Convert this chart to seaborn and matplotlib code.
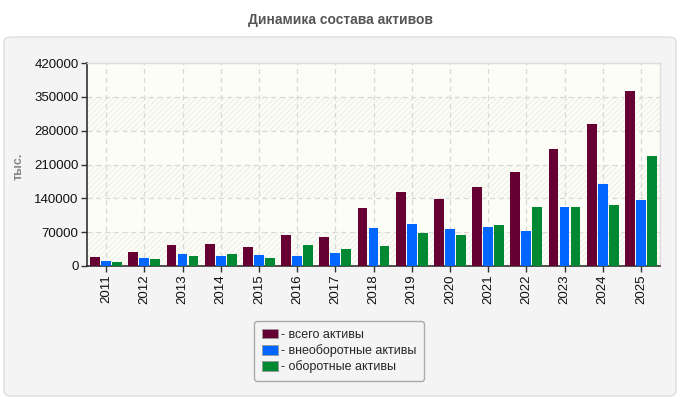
import numpy as np
import pandas as pd
import matplotlib
matplotlib.use("Agg")
import matplotlib.pyplot as plt
from matplotlib.patches import FancyBboxPatch, Patch
import seaborn as sns

# Chart data (thousand rubles)
YEARS = ["2011", "2012", "2013", "2014", "2015", "2016", "2017", "2018",
         "2019", "2020", "2021", "2022", "2023", "2024", "2025"]
TOTAL_ASSETS = [18500, 28800, 43200, 45300, 39100, 63800, 59700, 119400,
                152300, 137900, 162600, 193500, 242800, 294300, 362200]
NONCURRENT_ASSETS = [10300, 16500, 24700, 20600, 22600, 20600, 26800, 78200,
                     86400, 76100, 80300, 72000, 121400, 168800, 135800]
CURRENT_ASSETS = [8200, 14400, 20600, 24700, 16500, 43200, 35000, 41200,
                  67900, 63800, 84400, 121400, 121400, 125500, 228400]
SERIES_NAMES = ["всего активы", "внеоборотные активы", "оборотные активы"]
COLORS = ["#660033", "#0066ff", "#008833"]
Y_TICKS = [0, 70000, 140000, 210000, 280000, 350000, 420000]


def build_frame():
    frames = []
    for name, values in zip(SERIES_NAMES, [TOTAL_ASSETS, NONCURRENT_ASSETS, CURRENT_ASSETS]):
        frames.append(pd.DataFrame({"year": YEARS, "value": values, "series": name}))
    return pd.concat(frames, ignore_index=True)


def main():
    sns.set_theme(style="white")
    plt.rcParams["font.family"] = ["Liberation Sans", "DejaVu Sans"]
    plt.rcParams["hatch.color"] = "#efefe8"
    plt.rcParams["hatch.linewidth"] = 0.8

    fig = plt.figure(figsize=(6.8, 4.0), dpi=100)
    fig.patch.set_facecolor("white")

    # grey rounded panel behind the chart
    panel = FancyBboxPatch((4 / 680, 4 / 400), 672 / 680, 359 / 400,
                           boxstyle="round,pad=0,rounding_size=0.012",
                           transform=fig.transFigure, facecolor="#f4f4f4",
                           edgecolor="#dddddd", linewidth=1, zorder=-5)
    fig.patches.append(panel)

    ax = fig.add_axes([87 / 680, 1 - 266 / 400, 573 / 680, 203 / 400])
    ax.set_zorder(2)
    ax.set_facecolor("#fdfdf7")

    # alternating hatched bands
    for lo in (0, 140000, 280000):
        ax.axhspan(lo, lo + 70000, facecolor="none", hatch="//////",
                   edgecolor="#efefe8", linewidth=0, zorder=0)

    df = build_frame()
    sns.barplot(data=df, x="year", y="value", hue="series", palette=COLORS,
                width=0.86, gap=0.1, saturation=1, linewidth=0,
                ax=ax, legend=False, zorder=3)

    ax.set_ylim(0, 420000)
    ax.set_xlim(-0.5, len(YEARS) - 0.5)
    ax.set_yticks(Y_TICKS)
    ax.set_yticklabels([str(t) for t in Y_TICKS], fontsize=9.5, color="#111111")
    ax.set_xticks(range(len(YEARS)))
    ax.set_xticklabels(YEARS, rotation=90, fontsize=9.5, color="#111111")
    ax.set_xlabel("")
    ax.set_ylabel("")
    ax.tick_params(axis="both", length=4, width=1, color="#333333", direction="out",
                   bottom=True, left=True, pad=2)

    ax.grid(True, axis="both", linestyle=(0, (4, 3)), color="#d8d8d8", linewidth=0.9)
    ax.set_axisbelow(True)

    for side in ("left", "bottom"):
        ax.spines[side].set_color("#333333")
        ax.spines[side].set_linewidth(1.2)
    for side in ("top", "right"):
        ax.spines[side].set_color("#dddddd")
        ax.spines[side].set_linewidth(1)

    fig.text(0.5, 1 - 20 / 400, "Динамика состава активов", ha="center", va="center",
             fontsize=10, fontweight="bold", color="#555555")
    fig.text(19 / 680, 1 - 166 / 400, "тыс.", rotation=90, ha="center", va="center",
             fontsize=9, fontweight="bold", color="#888888")

    handles = [Patch(facecolor=c, edgecolor="#999999", linewidth=0.6) for c in COLORS]
    labels = ["- " + n for n in SERIES_NAMES]
    leg = fig.legend(handles, labels, loc="center", bbox_to_anchor=(339 / 680, 1 - 351 / 400),
                     fontsize=9, frameon=True, fancybox=True, handlelength=1.3,
                     handleheight=0.8, handletextpad=0.2, labelspacing=0.25,
                     borderpad=0.6, borderaxespad=0)
    leg.set_zorder(5)
    frame = leg.get_frame()
    frame.set_facecolor("#f4f4f4")
    frame.set_edgecolor("#aaaaaa")
    frame.set_linewidth(1)
    frame.set_alpha(1)

    fig.savefig("out.png", dpi=100, facecolor=fig.get_facecolor())


if __name__ == "__main__":
    main()
